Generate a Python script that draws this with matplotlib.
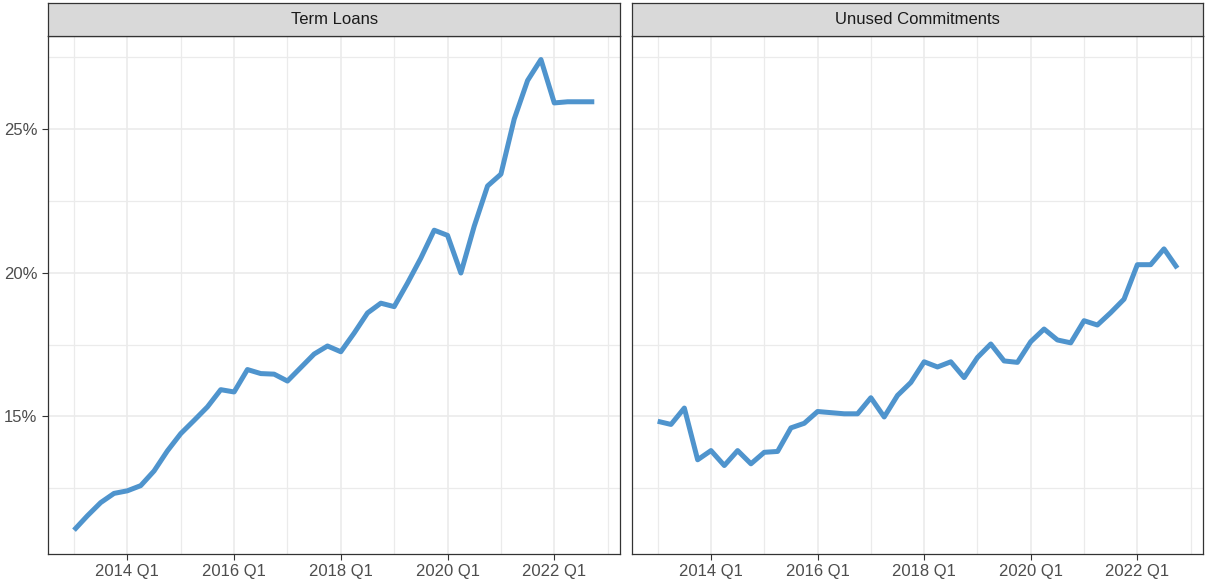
import numpy as np
import matplotlib
matplotlib.use('Agg')
import matplotlib.pyplot as plt
from matplotlib.ticker import FixedLocator, FuncFormatter

# quarterly series, 2013 Q1 .. 2022 Q4 (share, in %)
years    = np.repeat(np.arange(2013, 2023), 4)
quarters = np.tile(np.arange(1, 5), 10)

term_loans = [11.04, 11.54, 12.00, 12.32, 12.41, 12.59, 13.10, 13.80, 14.40, 14.86,
              15.33, 15.93, 15.85, 16.63, 16.49, 16.47, 16.23, 16.70, 17.17, 17.45,
              17.25, 17.90, 18.60, 18.94, 18.82, 19.64, 20.51, 21.48, 21.30, 19.99,
              21.62, 23.02, 23.43, 25.35, 26.69, 27.42, 25.91, 25.95, 25.95, 25.95]

unused_commitments = [14.83, 14.72, 15.29, 13.49, 13.81, 13.29, 13.81, 13.35, 13.75, 13.78,
                      14.60, 14.76, 15.17, 15.13, 15.09, 15.09, 15.65, 14.98, 15.73, 16.18,
                      16.90, 16.72, 16.90, 16.35, 17.05, 17.52, 16.93, 16.88, 17.60, 18.04,
                      17.66, 17.56, 18.33, 18.18, 18.61, 19.08, 20.28, 20.28, 20.83, 20.16]

panels = ['Term Loans', 'Unused Commitments']
series = [term_loans, unused_commitments]

major_years = [2014, 2016, 2018, 2020, 2022]
minor_years = [2013, 2015, 2017, 2019, 2021, 2023]
y_major     = [15, 20, 25]
y_minor     = [12.5, 17.5, 22.5, 27.5]

x = years + (quarters - 1) / 4.0

line_col  = '#4F94CD'
grid_col  = '#EBEBEB'
frame_col = '#333333'

plt.rcParams['font.family'] = ['Liberation Sans', 'DejaVu Sans']

fig = plt.figure(figsize=(12.05, 5.85), dpi=100)
W, H = 1205.0, 585.0

# shared scales (ggplot-style 5% expansion)
allv  = np.concatenate([term_loans, unused_commitments])
xr    = x.max() - x.min()
yr    = allv.max() - allv.min()
xlim  = (x.min() - 0.05 * xr, x.max() + 0.05 * xr)
ylim  = (allv.min() - 0.05 * yr, allv.max() + 0.05 * yr)

lefts  = [48.0, 631.7]
rights = [620.3, 1203.3]
top, bottom, strip_top = 36.0, 553.7, 3.3

for i, (name, vals) in enumerate(zip(panels, series)):
    l, r = lefts[i], rights[i]
    ax = fig.add_axes([l / W, (H - bottom) / H, (r - l) / W, (bottom - top) / H])
    ax.plot(x, vals, color=line_col, lw=3.6, solid_capstyle='butt', solid_joinstyle='round', zorder=3)

    ax.set_xlim(*xlim)
    ax.set_ylim(*ylim)
    ax.xaxis.set_major_locator(FixedLocator(major_years))
    ax.xaxis.set_minor_locator(FixedLocator(minor_years))
    ax.xaxis.set_major_formatter(FuncFormatter(lambda v, p: f'{int(round(v))} Q1'))
    ax.yaxis.set_major_locator(FixedLocator(y_major))
    ax.yaxis.set_minor_locator(FixedLocator(y_minor))
    ax.yaxis.set_major_formatter(FuncFormatter(lambda v, p: f'{v:.0f}%'))

    ax.grid(which='major', color=grid_col, lw=1.2, zorder=0)
    ax.grid(which='minor', color=grid_col, lw=0.9, zorder=0)
    ax.set_axisbelow(True)

    ax.tick_params(which='major', length=4.5, width=0.8, color=frame_col,
                   labelsize=12, labelcolor='#4D4D4D', pad=3)
    ax.tick_params(which='minor', length=0)
    if i > 0:
        ax.tick_params(axis='y', which='major', length=0, labelleft=False)

    for s in ax.spines.values():
        s.set_color(frame_col)
        s.set_linewidth(0.9)

    # facet strip
    sx = fig.add_axes([l / W, (H - top) / H, (r - l) / W, (top - strip_top) / H])
    sx.set_facecolor('#D9D9D9')
    sx.set_xticks([])
    sx.set_yticks([])
    for s in sx.spines.values():
        s.set_color(frame_col)
        s.set_linewidth(0.9)
    sx.text(0.5, 0.5, name, ha='center', va='center', fontsize=12, color='#1A1A1A',
            transform=sx.transAxes)

fig.savefig('out.png', dpi=100)
plt.close(fig)
